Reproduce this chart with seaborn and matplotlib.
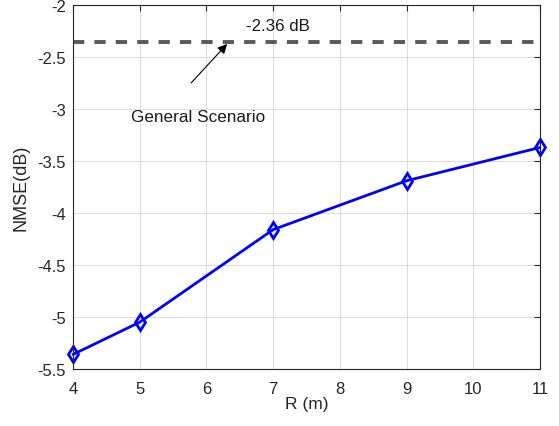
import matplotlib
matplotlib.use("Agg")
import matplotlib.pyplot as plt
import seaborn as sns
import pandas as pd

R_values = [4, 5, 7, 9, 11]
nmse_values = [-5.36, -5.05, -4.16, -3.69, -3.37]
general_level = -2.36
x_ticks = [4, 5, 6, 7, 8, 9, 10, 11]
y_ticks = [-5.5, -5, -4.5, -4, -3.5, -3, -2.5, -2]
y_tick_labels = ["-5.5", "-5", "-4.5", "-4", "-3.5", "-3", "-2.5", "-2"]

sns.set_style("white")
plt.rcParams['font.family'] = ['Liberation Sans', 'DejaVu Sans']

df = pd.DataFrame({"R": R_values, "NMSE": nmse_values})

fig = plt.figure(figsize=(5.59, 4.27), dpi=100)
ax = fig.add_axes([0.1306, 0.1335, 0.8354, 0.8525])

ax.axhline(general_level, color="#595959", linestyle=(0, (2.9, 2.6)), linewidth=2.8, zorder=2)
sns.lineplot(data=df, x="R", y="NMSE", ax=ax, color="#0000ff", linewidth=2,
             marker="d", markersize=8.5, markerfacecolor="none",
             markeredgecolor="#0000ff", markeredgewidth=2, zorder=3, clip_on=False)

ax.set_xlim(4, 11)
ax.set_ylim(-5.5, -2)
ax.set_xticks(x_ticks)
ax.set_yticks(y_ticks)
ax.set_yticklabels(y_tick_labels)
ax.grid(True, color="#dcdcdc", linewidth=0.8)
ax.set_axisbelow(True)
ax.tick_params(direction="in", top=True, right=True, length=4, width=0.8,
               labelsize=12, colors="#262626")
ax.tick_params(axis="x", pad=9)
ax.tick_params(axis="y", pad=5)
for s in ax.spines.values():
    s.set_color("#262626")
    s.set_linewidth(0.8)
    s.set_zorder(4)
ax.set_xlabel("R (m)", fontsize=12.5, color="#262626", labelpad=0)
ax.set_ylabel("NMSE(dB)", fontsize=13, color="#262626", labelpad=6)

ax.text(7.07, -2.2, "-2.36 dB", fontsize=12.2, ha="center", va="center", color="#1a1a1a")
ax.annotate("", xy=(6.31, -2.375), xytext=(5.77, -2.75),
            arrowprops=dict(arrowstyle="-|>", color="black", lw=0.8,
                            mutation_scale=14, shrinkA=0, shrinkB=0))
ax.text(5.87, -3.07, "General Scenario", fontsize=12.3, ha="center", va="center", color="#1a1a1a")

fig.savefig("out.png", dpi=100)
